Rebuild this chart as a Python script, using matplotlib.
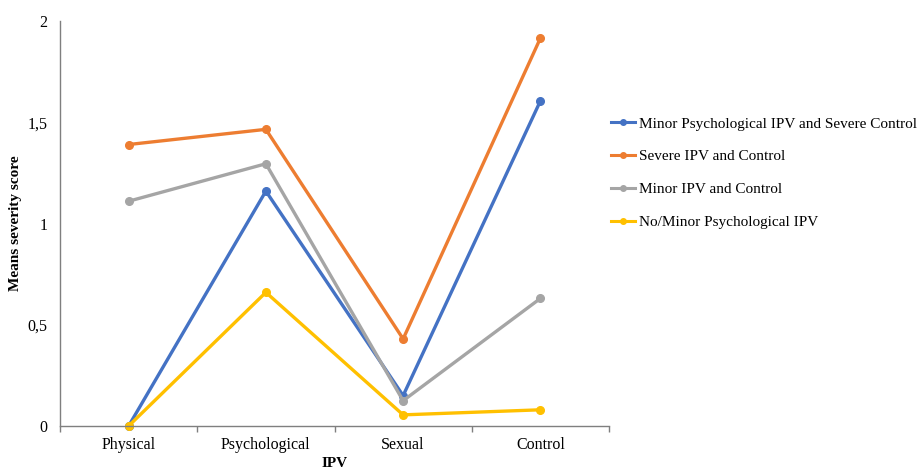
import matplotlib
matplotlib.use("Agg")
import matplotlib.pyplot as plt
from matplotlib.ticker import FixedLocator

categories = ["Physical", "Psychological", "Sexual", "Control"]
series_names = ["Minor Psychological IPV and Severe Control",
                "Severe IPV and Control",
                "Minor IPV and Control",
                "No/Minor Psychological IPV"]
minor_psych_severe_control = [0.0, 1.16, 0.15, 1.605]
severe_ipv_control = [1.39, 1.465, 0.43, 1.915]
minor_ipv_control = [1.11, 1.295, 0.125, 0.63]
no_minor_psych = [0.0, 0.66, 0.055, 0.08]
yticks = [0, 0.5, 1, 1.5, 2]
ytick_labels = ["0", "0,5", "1", "1,5", "2"]

colors = ["#4472C4", "#ED7D31", "#A5A5A5", "#FFC000"]
plt.rcParams['font.family'] = ['Liberation Serif', 'DejaVu Serif']

fig = plt.figure(figsize=(9.22, 4.7), dpi=100)
ax = fig.add_axes([60/922, 1-426/470, (609-60)/922, (426-21)/470])

x = list(range(len(categories)))
all_series = [minor_psych_severe_control, severe_ipv_control, minor_ipv_control, no_minor_psych]
for vals, name, c in zip(all_series, series_names, colors):
    ax.plot(x, vals, color=c, lw=2.4, marker='o', ms=5.5, label=name,
            solid_joinstyle='miter', clip_on=False)

ax.set_xlim(-0.5, 3.5)
ax.set_ylim(0, 2)
ax.set_yticks(yticks)
ax.set_yticklabels(ytick_labels)
ax.set_xticks(x)
ax.set_xticklabels(categories)
ax.xaxis.set_minor_locator(FixedLocator([-0.5, 0.5, 1.5, 2.5, 3.5]))
ax.tick_params(axis='x', which='major', length=0, pad=8, labelsize=11.5)
ax.tick_params(axis='x', which='minor', length=4, color='#7f7f7f', width=1)
ax.tick_params(axis='y', length=0, pad=9, labelsize=11.5)
for s in ['top', 'right']:
    ax.spines[s].set_visible(False)
for s in ['left', 'bottom']:
    ax.spines[s].set_color('#7f7f7f')
    ax.spines[s].set_linewidth(1)

ax.set_ylabel("Means severity score", fontweight='bold', fontsize=11, labelpad=4)
ax.set_xlabel("IPV", fontweight='bold', fontsize=11, labelpad=3)

leg = fig.legend(loc='upper left', bbox_to_anchor=(611/922, 1-117/470), frameon=False,
                 fontsize=11, handlelength=1.6, handletextpad=0.2, labelspacing=1.25,
                 borderaxespad=0, borderpad=0)
for h in leg.legend_handles:
    h.set_linewidth(2.2)
    h.set_markersize(4)

fig.savefig("out.png", dpi=100)
